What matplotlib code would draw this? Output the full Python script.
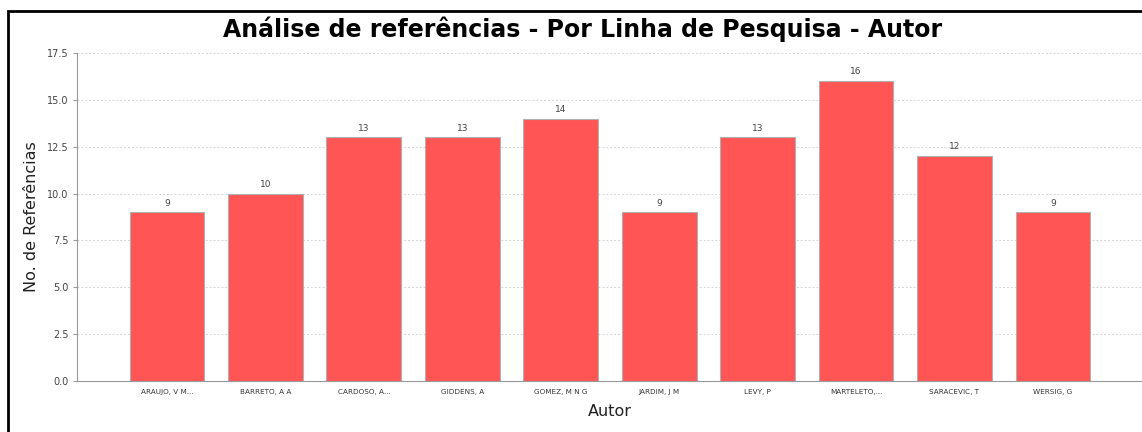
import matplotlib.pyplot as plt
from matplotlib.patches import Rectangle

# data
autores = ['ARAUJO, V M...', 'BARRETO, A A', 'CARDOSO, A...', 'GIDDENS, A', 'GOMEZ, M N G',
           'JARDIM, J M', 'LEVY, P', 'MARTELETO,...', 'SARACEVIC, T', 'WERSIG, G']
referencias = [9, 10, 13, 13, 14, 9, 13, 16, 12, 9]
y_ticks = [0.0, 2.5, 5.0, 7.5, 10.0, 12.5, 15.0, 17.5]

fig = plt.figure(figsize=(11.42, 4.32), dpi=100)
ax = fig.add_axes([77 / 1142, 1 - 381 / 432, 1 - 77 / 1142, (381 - 53) / 432])

pos = list(range(len(autores)))
bars = ax.bar(pos, referencias, width=0.76, color='#ff5555', edgecolor='#b0b0b0', linewidth=0.8, zorder=3)
for b, v in zip(bars, referencias):
    ax.text(b.get_x() + b.get_width() / 2, v + 0.25, str(v), ha='center', va='bottom',
            fontsize=6.5, color='#444444')

ax.set_xlim(-0.914, 9.905)
ax.set_ylim(0, 17.5)
ax.set_yticks(y_ticks)
ax.set_yticklabels(['%.1f' % t for t in y_ticks], fontsize=7, color='#444444')
ax.set_xticks(pos)
ax.set_xticklabels(autores, fontsize=5.2, color='#333333')
ax.tick_params(axis='x', length=0, pad=6)
ax.tick_params(axis='y', length=3, color='#999999', pad=3)

ax.grid(axis='y', linestyle=(0, (2, 2)), color='#d4d4d4', linewidth=0.7, zorder=0)
for s in ['top', 'right']:
    ax.spines[s].set_visible(False)
for s in ['left', 'bottom']:
    ax.spines[s].set_color('#999999')

ax.set_ylabel('No. de Referências', fontsize=11.5, color='#222222', labelpad=6)
ax.set_xlabel('Autor', fontsize=11.5, color='#222222', labelpad=6)
fig.text(583 / 1142, 1 - 29 / 432, 'Análise de referências - Por Linha de Pesquisa - Autor',
         ha='center', va='center', fontsize=17, fontweight='bold')

# black frame at left/top like the original window
fig.add_artist(Rectangle((8 / 1142, -0.1), 2, 1 - 11 / 432 + 0.1, transform=fig.transFigure,
                         fill=False, edgecolor='black', linewidth=2))

fig.savefig('out.png', dpi=100)
